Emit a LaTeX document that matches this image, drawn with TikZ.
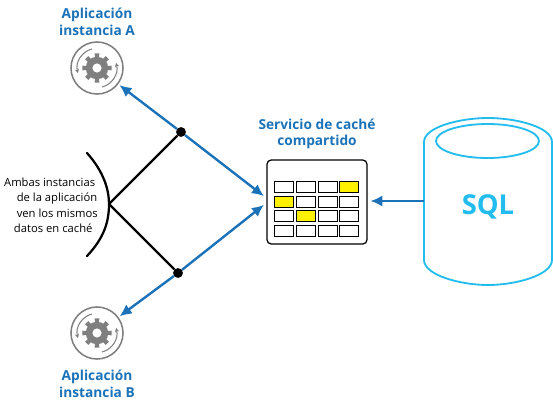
\documentclass[tikz,border=0pt]{standalone}
\usepackage{fontspec}
\setmainfont{Open Sans}
\usepackage{xcolor}
\usetikzlibrary{arrows.meta}
\definecolor{titleblue}{HTML}{1B72B8}
\definecolor{sqlblue}{HTML}{22BCEE}
\definecolor{geargray}{HTML}{7F7F7F}
\definecolor{cellyellow}{HTML}{FFF100}
\tikzset{
  title/.style={text=titleblue, font=\bfseries\fontsize{19.5}{23.5}\selectfont, align=center},
  link/.style={draw=titleblue, line width=3.4pt, -{Latex[length=17pt,width=16pt]}, shorten >=2pt},
  share/.style={draw=black, line width=3.2pt},
  dot/.style={circle, fill=black, inner sep=0pt, minimum size=14pt},
  cell/.style={draw=black, line width=1.7pt, fill=white, minimum width=26pt, minimum height=16pt, inner sep=0pt},
  hot/.style={cell, fill=cellyellow},
  sqlline/.style={draw=sqlblue, line width=2.6pt},
  appicon/.style={circle, draw=geargray, line width=2.2pt, minimum size=74pt, inner sep=0pt},
}
% one application icon: ring, two turning arrows and the gear
\newcommand{\appgear}[1]{%
  \draw[geargray, line width=1.5pt, -{Stealth[length=6pt,width=6pt]}]
    ([shift={(105:28pt)}]#1.center) arc (105:195:28pt);
  \draw[geargray, line width=1.5pt, -{Stealth[length=6pt,width=6pt]}]
    ([shift={(285:28pt)}]#1.center) arc (285:375:28pt);
  \fill[geargray]
    \foreach \a in {0,45,...,315} {
      ([shift={(\a-12:14pt)}]#1.center) -- ([shift={(\a-9:21pt)}]#1.center) --
      ([shift={(\a+9:21pt)}]#1.center) -- ([shift={(\a+12:14pt)}]#1.center) -- cycle
    }
    (#1.center) circle (16pt);
  \fill[white] (#1.center) circle (6.5pt);
}

\begin{document}
\begin{tikzpicture}[x=0.5mm, y=-0.5mm]
\useasboundingbox (0,0) rectangle (553,403);

% applications
\node[title] (titleA) at (97,22) {Aplicación\\instancia A};
\node[title] (titleB) at (97,384) {Aplicación\\instancia B};
\node[appicon] (appA) at (97,68) {};
\node[appicon] (appB) at (97,333) {};
\appgear{appA}
\appgear{appB}

% shared store
\node[title] (titleCache) at (317,134) {Servicio de caché\\compartido};
\draw[line width=1.8pt, rounded corners=6pt, fill=white] (267,160) rectangle (367,244);
\coordinate (cacheA) at (265,197);
\coordinate (cacheB) at (265,204);
\coordinate (cacheR) at (369,201);

\foreach \y/\r in {187/1,202/2,216/3,231/4} {
  \foreach \x/\c in {284/1,306/2,328/3,349/4} {
    \node[cell] (c\r\c) at (\x,\y) {};
  }
}
\node[hot] at (c14) {};
\node[hot] at (c21) {};
\node[hot] at (c32) {};

% database
\draw[sqlline, fill=white] (424,142) .. controls (424,127) and (460,118) .. (488,118)
  .. controls (516,118) and (552,127) .. (552,142) -- (552,260)
  .. controls (552,275) and (516,285) .. (488,285)
  .. controls (460,285) and (424,275) .. (424,260) -- cycle;
\draw[sqlline] (487.5,141) ellipse (51.5 and 17);
\node[text=sqlblue, font=\bfseries\fontsize{39}{44}\selectfont] (sql) at (488,207) {SQL};
\coordinate (sqlL) at (424,201);

% note
\coordinate (join) at (109,204);
\node[dot] (dotA) at (181,132) {};
\node[dot] (dotB) at (178,273) {};
\draw[share, line cap=round] (87,153) .. controls (104,172) and (109,190) .. (109,204)
  .. controls (109,222) and (104,238) .. (87,256);
\draw[share] (join) -- (dotA);
\draw[share] (join) -- (dotB);
\node[anchor=north west, align=left, inner sep=0pt, font=\fontsize{16}{21.7}\selectfont] (note) at (4,178)
  {Ambas instancias\\\hspace*{18pt}de la aplicación\\\hspace*{18pt}ven los mismos\\\hspace*{14pt}datos en caché};

% connectors
\draw[link] (dotA) -- (cacheA);
\draw[link] (dotB) -- (cacheB);
\draw[link] (dotA) -- (appA);
\draw[link] (dotB) -- (appB);
\draw[link] (sqlL) -- (cacheR);

\end{tikzpicture}
\end{document}
